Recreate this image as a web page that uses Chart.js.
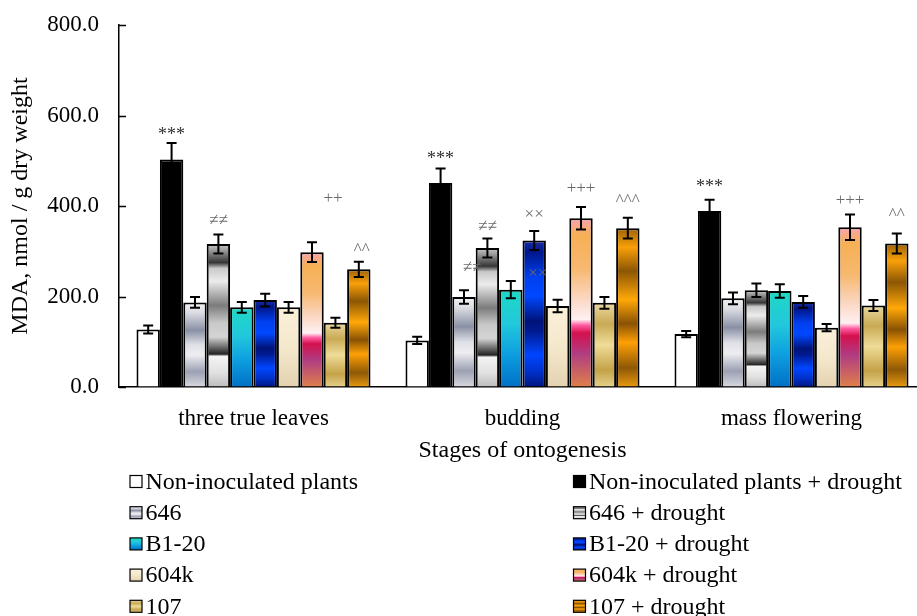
<!DOCTYPE html>
<html>
<head>
<meta charset="utf-8">
<script src="https://cdn.jsdelivr.net/npm/chart.js@4/dist/chart.umd.min.js"></script>
<style>
html, body { margin: 0; padding: 0; background: #fff; overflow: hidden; }
#wrap { position: absolute; left: 0; top: 0; width: 926px; height: 616px; }
</style>
</head>
<body>
<div id="wrap"><canvas id="mdaChart"></canvas></div>
<script>
// categories, series and tick labels
const stages = ['three true leaves', 'budding', 'mass flowering'];
const seriesNames = [
  'Non-inoculated plants', 'Non-inoculated plants + drought',
  '646', '646 + drought',
  'B1-20', 'B1-20 + drought',
  '604k', '604k + drought',
  '107', '107 + drought'
];
const yTicks = [0, 200, 400, 600, 800];

// MDA means, one value per stage
const nonInoc = [127, 103, 117];
const nonInocDrought = [503, 451, 389];
const s646 = [187, 199, 196];
const s646Drought = [316, 307, 214];
const b120 = [176, 215, 212];
const b120Drought = [192, 324, 188];
const s604k = [176, 179, 131];
const s604kDrought = [298, 373, 353];
const s107 = [142, 186, 180];
const s107Drought = [260, 351, 317];

// error bars (+/-)
const nonInocErr = [9, 8, 7];
const nonInocDroughtErr = [36, 32, 25];
const s646Err = [12, 15, 13];
const s646DroughtErr = [21, 21, 15];
const b120Err = [12, 19, 15];
const b120DroughtErr = [14, 21, 13];
const s604kErr = [12, 14, 8];
const s604kDroughtErr = [22, 25, 28];
const s107Err = [11, 13, 12];
const s107DroughtErr = [17, 23, 22];

// significance marks: [series, stage, text]
const marks = [
  [1, 0, '***'], [3, 0, '≠≠'], [7, 0, '++'], [9, 0, '^^'],
  [1, 1, '***'], [2, 1, '≠≠'], [3, 1, '≠≠'], [4, 1, '××'], [5, 1, '××'], [7, 1, '+++'], [9, 1, '^^^'],
  [1, 2, '***'], [7, 2, '+++'], [9, 2, '^^']
];

const values = [nonInoc, nonInocDrought, s646, s646Drought, b120, b120Drought, s604k, s604kDrought, s107, s107Drought];
const errors = [nonInocErr, nonInocDroughtErr, s646Err, s646DroughtErr, b120Err, b120DroughtErr, s604kErr, s604kDroughtErr, s107Err, s107DroughtErr];

// bar fills (Excel-like preset gradients, top -> bottom)
const fills = [
  '#ffffff',
  '#000000',
  [[0, '#f2f2f5'], [0.12, '#dcdde3'], [0.33, '#8a90a5'], [0.5, '#dfe0e6'], [0.62, '#eeeef2'], [0.82, '#9ca0b2'], [1, '#d8d9e0']],
  [[0, '#c8c8c8'], [0.04, '#a0a0a0'], [0.13, '#353535'], [0.17, '#c8c8c8'], [0.26, '#ececec'], [0.43, '#7c7c7c'], [0.55, '#c8c8c8'],
   [0.65, '#d4d4d4'], [0.75, '#404040'], [0.77, '#222222'], [0.785, '#f4f4f4'], [0.9, '#e0e0e0'], [1, '#bcbcbc']],
  [[0, '#1fd8c4'], [0.35, '#22c8dc'], [0.65, '#0ea0e0'], [1, '#0070c6']],
  [[0, '#1a2fa8'], [0.08, '#00168a'], [0.25, '#0040f0'], [0.38, '#0048ff'], [0.55, '#00137a'], [0.62, '#001a90'],
   [0.78, '#0046ff'], [0.9, '#0030c8'], [1, '#00157e']],
  [[0, '#fbf1da'], [0.5, '#f4e8cc'], [1, '#e4d2b0']],
  [[0, '#f8a4b0'], [0.1, '#f6b055'], [0.3, '#f7b870'], [0.48, '#fbd8c4'], [0.6, '#fff0f2'], [0.635, '#ff5aa0'],
   [0.68, '#d4104e'], [0.8, '#b03c82'], [1, '#e0804a']],
  [[0, '#ead9a0'], [0.25, '#c9aa55'], [0.5, '#efdc98'], [0.8, '#c4a248'], [1, '#e6d18c']],
  [[0, '#9c6004'], [0.12, '#f9a00a'], [0.27, '#8c5604'], [0.45, '#ffa808'], [0.6, '#8a5204'], [0.72, '#fda006'],
   [0.88, '#8e5806'], [1, '#e89a10']]
];

// where each mark sits: px above the error cap, and sideways nudge
const markPlace = {
  '1,0': [13, 0], '3,0': [15, 0], '7,0': [45, 21], '9,0': [15, 3],
  '1,1': [14, 0], '2,1': [24, 8], '3,1': [13, 0], '4,1': [9, 27], '5,1': [18, 0], '7,1': [19, 0], '9,1': [20, 0],
  '1,2': [17, 0], '7,2': [15, 0], '9,2': [22, 0]
};

const serif = '"Liberation Serif", "Times New Roman", serif';
Chart.defaults.font.family = serif;
Chart.defaults.color = '#000';

function fillFor(i, ctx, top, bottom) {
  const stops = fills[i];
  if (typeof stops === 'string') return stops;
  if (!isFinite(top) || !isFinite(bottom) || top === bottom) return stops[0][1];
  const g = ctx.createLinearGradient(0, top, 0, bottom);
  stops.forEach(s => g.addColorStop(s[0], s[1]));
  return g;
}

function barFill(i) {
  return function (context) {
    const chart = context.chart;
    const y = chart.scales.y;
    if (typeof fills[i] === 'string') return fills[i];
    if (!y || context.type !== 'data' || !isFinite(context.raw)) return fills[i][0][1];
    const top = y.getPixelForValue(context.raw);
    const base = y.getPixelForValue(0);
    return fillFor(i, chart.ctx, top, base);
  };
}

const errorBars = {
  id: 'errorBars',
  afterDatasetsDraw(chart) {
    const ctx = chart.ctx, y = chart.scales.y;
    ctx.save();
    ctx.strokeStyle = '#000';
    ctx.lineWidth = 2;
    chart.data.datasets.forEach((ds, i) => {
      chart.getDatasetMeta(i).data.forEach((bar, j) => {
        const v = ds.data[j], e = errors[i][j];
        const hi = y.getPixelForValue(v + e), lo = y.getPixelForValue(v - e);
        ctx.beginPath();
        ctx.moveTo(bar.x, hi); ctx.lineTo(bar.x, lo);
        ctx.moveTo(bar.x - 5, hi); ctx.lineTo(bar.x + 5, hi);
        ctx.moveTo(bar.x - 5, lo); ctx.lineTo(bar.x + 5, lo);
        ctx.stroke();
      });
    });
    ctx.restore();
  }
};

const sigMarks = {
  id: 'sigMarks',
  afterDatasetsDraw(chart) {
    const ctx = chart.ctx, y = chart.scales.y;
    ctx.save();
    ctx.textAlign = 'center';
    ctx.textBaseline = 'alphabetic';
    marks.forEach(([i, j, text]) => {
      const bar = chart.getDatasetMeta(i).data[j];
      const [gap, dx] = markPlace[i + ',' + j] || [15, 0];
      const capY = y.getPixelForValue(values[i][j] + errors[i][j]);
      ctx.font = (text === '***' ? '18px ' : '17px ') + serif;
      ctx.fillStyle = text === '***' ? '#303030' : '#6a6a6a';
      const m = ctx.measureText(text);
      const cy = capY - gap;
      ctx.fillText(text, bar.x + dx, cy + (m.actualBoundingBoxAscent - m.actualBoundingBoxDescent) / 2);
    });
    ctx.restore();
  }
};

const innerTicks = {
  id: 'innerTicks',
  afterDraw(chart) {
    const ctx = chart.ctx, y = chart.scales.y, x0 = chart.chartArea.left;
    ctx.save();
    ctx.strokeStyle = '#000';
    ctx.lineWidth = 1.5;
    ctx.beginPath();
    yTicks.forEach(v => {
      const py = Math.round(y.getPixelForValue(v)) + 0.5;
      ctx.moveTo(x0, py);
      ctx.lineTo(x0 + 7, py);
    });
    ctx.stroke();
    ctx.restore();
  }
};

const legendBox = {
  id: 'legendBox',
  afterDraw(chart) {
    const ctx = chart.ctx;
    ctx.save();
    ctx.font = '24px ' + serif;
    ctx.textBaseline = 'middle';
    ctx.textAlign = 'left';
    seriesNames.forEach((name, i) => {
      const col = i % 2, row = Math.floor(i / 2);
      const x = col ? 573.5 : 130;
      const cy = 481.5 + row * 31.2;
      ctx.fillStyle = fillFor(i, ctx, cy - 6, cy + 6);
      ctx.fillRect(x, cy - 6, 12, 12);
      ctx.lineWidth = 1.2;
      ctx.strokeStyle = '#000';
      ctx.strokeRect(x, cy - 6, 12, 12);
      ctx.fillStyle = '#000';
      ctx.fillText(name, x + 15.5, cy + 1);
    });
    ctx.restore();
  }
};

const ctxMda = document.getElementById('mdaChart').getContext('2d');
const mdaChart = new Chart(ctxMda, {
  type: 'bar',
  data: {
    labels: stages,
    datasets: seriesNames.map((name, i) => ({
      label: name,
      data: values[i],
      backgroundColor: barFill(i),
      borderColor: '#000',
      borderWidth: 2,
      barPercentage: 1,
      categoryPercentage: 0.87
    }))
  },
  options: {
    responsive: true,
    maintainAspectRatio: false,
    animation: false,
    layout: { padding: { top: 25, bottom: 151, left: 0, right: 0 } },
    plugins: {
      legend: { display: false },
      tooltip: { enabled: false }
    },
    scales: {
      x: {
        grid: { drawOnChartArea: false, drawTicks: false },
        border: { color: '#000', width: 1.5 },
        ticks: { font: { size: 23 }, color: '#000', padding: 18 },
        title: { display: true, text: 'Stages of ontogenesis', font: { size: 24 }, color: '#000', padding: 0 },
        afterFit(s) { s.height = 78; }
      },
      y: {
        min: 0,
        max: 800,
        afterBuildTicks(s) { s.ticks = yTicks.map(v => ({ value: v })); },
        ticks: { font: { size: 23 }, color: '#000', padding: 20, callback: v => Number(v).toFixed(1) },
        grid: { drawOnChartArea: false, drawTicks: false },
        border: { color: '#000', width: 1.5 },
        title: { display: true, text: 'MDA, nmol / g dry weight', font: { size: 24 }, color: '#000', padding: { top: 6, bottom: 0 } },
        afterFit(s) { s.width = 119; s.paddingTop = 0; s.paddingBottom = 0; }
      }
    }
  },
  plugins: [errorBars, sigMarks, innerTicks, legendBox]
});
</script>
</body>
</html>
